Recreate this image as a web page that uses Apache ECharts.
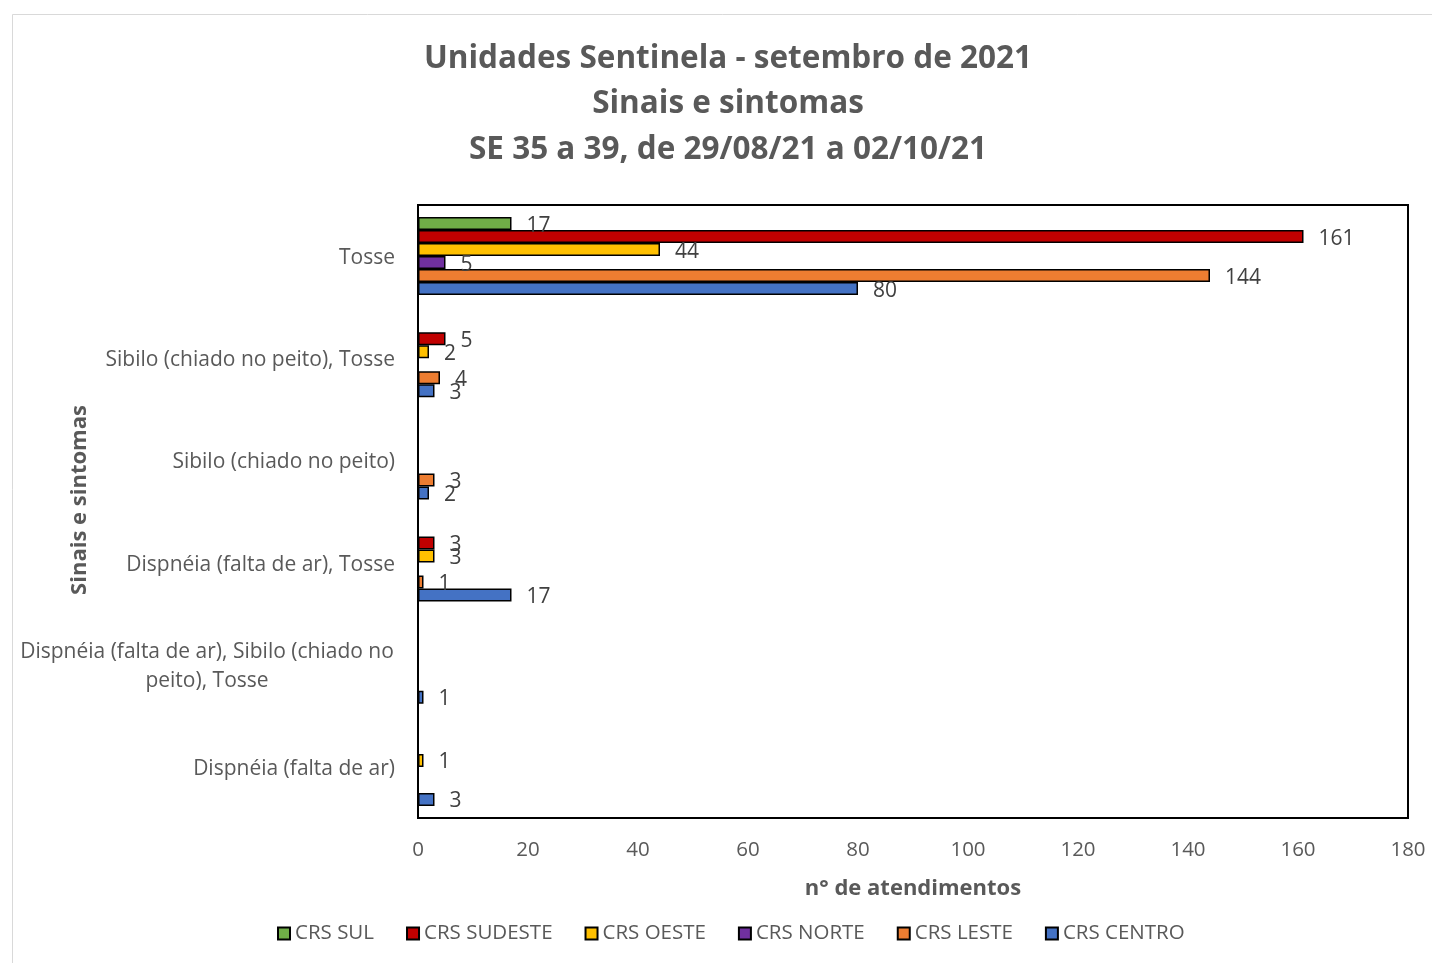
<!DOCTYPE html>
<html>
<head>
<meta charset="utf-8">
<script src="https://cdn.jsdelivr.net/npm/echarts@6/dist/echarts.min.js"></script>
<style>
  html, body { margin: 0; padding: 0; background: #ffffff; }
  #chart { width: 1432px; height: 963px; }
</style>
</head>
<body>
<div id="chart"></div>
<script>
// Symptom groups, top to bottom
const categories = [
  'Tosse',
  'Sibilo (chiado no peito), Tosse',
  'Sibilo (chiado no peito)',
  'Dispnéia (falta de ar), Tosse',
  'Dispnéia (falta de ar), Sibilo (chiado no peito), Tosse',
  'Dispnéia (falta de ar)'
];

// Attendances per regional coordination (null = no cases)
const crsSul     = [17, null, null, null, null, null];
const crsSudeste = [161, 5, null, 3, null, null];
const crsOeste   = [44, 2, null, 3, null, 1];
const crsNorte   = [5, null, null, null, null, null];
const crsLeste   = [144, 4, 3, 1, null, null];
const crsCentro  = [80, 3, 2, 17, 1, 3];

const xTicks = { min: 0, max: 180, interval: 20 };

const seriesDefs = [
  { name: 'CRS SUL', data: crsSul, color: '#70AD47' },
  { name: 'CRS SUDESTE', data: crsSudeste, color: '#C00000' },
  { name: 'CRS OESTE', data: crsOeste, color: '#FFC000' },
  { name: 'CRS NORTE', data: crsNorte, color: '#7030A0' },
  { name: 'CRS LESTE', data: crsLeste, color: '#ED7D31' },
  { name: 'CRS CENTRO', data: crsCentro, color: '#4472C4' }
];

const FONT = '"Open Sans", sans-serif';
const chart = echarts.init(document.getElementById('chart'));

chart.setOption({
  backgroundColor: '#ffffff',
  animation: false,
  textStyle: { fontFamily: FONT },
  graphic: [
    {
      type: 'rect',
      shape: { x: 12.5, y: 14.5, width: 1500, height: 1000 },
      style: { fill: 'none', stroke: '#d9d9d9', lineWidth: 1 },
      silent: true
    },
    {
      // vertical axis title
      type: 'text',
      x: 80,
      y: 500,
      rotation: Math.PI / 2,
      style: {
        text: 'Sinais e sintomas',
        fontFamily: FONT,
        fontSize: 22,
        fontWeight: 'bold',
        fill: '#595959',
        align: 'center',
        verticalAlign: 'middle'
      },
      silent: true
    }
  ],
  title: {
    text: 'Unidades Sentinela - setembro de 2021\nSinais e sintomas\nSE 35 a 39, de 29/08/21 a 02/10/21',
    left: 723,
    textAlign: 'center',
    top: 31,
    textStyle: {
      fontFamily: FONT,
      fontSize: 31.5,
      fontWeight: 'bold',
      color: '#595959',
      lineHeight: 45.5
    }
  },
  legend: {
    bottom: 14,
    left: 272,
    itemWidth: 12,
    itemHeight: 12,
    itemGap: 32,
    icon: 'rect',
    textStyle: { fontFamily: FONT, fontSize: 20.5, color: '#595959' },
    data: seriesDefs.map(s => s.name)
  },
  grid: {
    left: 418,
    right: 24,
    top: 205,
    bottom: 145,
    show: true,
    borderColor: '#000000',
    borderWidth: 2,
    outerBoundsMode: 'none',
    containLabel: false
  },
  xAxis: {
    type: 'value',
    min: xTicks.min,
    max: xTicks.max,
    interval: xTicks.interval,
    name: 'n° de atendimentos',
    nameLocation: 'middle',
    nameGap: 60,
    nameTextStyle: { fontFamily: FONT, fontSize: 22, fontWeight: 'bold', color: '#595959' },
    axisLine: { show: false },
    axisTick: { show: false },
    splitLine: { show: false },
    axisLabel: { fontFamily: FONT, fontSize: 20.5, color: '#595959', margin: 22 }
  },
  yAxis: {
    type: 'category',
    inverse: true,
    data: categories,
    axisLine: { show: false },
    axisTick: { show: false },
    axisLabel: {
      fontFamily: FONT,
      fontSize: 21,
      color: '#595959',
      margin: 23,
      padding: [4, 0, 0, 0],
      formatter: function (v) {
        if (v.length > 40) {
          return '{c|Dispnéia (falta de ar), Sibilo (chiado no}\n{c|peito), Tosse}';
        }
        return v;
      },
      rich: {
        c: { width: 376, align: 'center', fontSize: 21, color: '#595959', fontFamily: FONT, lineHeight: 29 }
      }
    }
  },
  series: seriesDefs.map(s => ({
    name: s.name,
    type: 'bar',
    data: s.data,
    barWidth: 13,
    barGap: '0%',
    itemStyle: { color: s.color, borderColor: '#000000', borderWidth: 1.5 },
    label: {
      show: true,
      position: 'right',
      distance: 15,
      fontFamily: FONT,
      fontSize: 21,
      color: '#404040',
      offset: [0, 2]
    }
  }))
});
</script>
</body>
</html>
